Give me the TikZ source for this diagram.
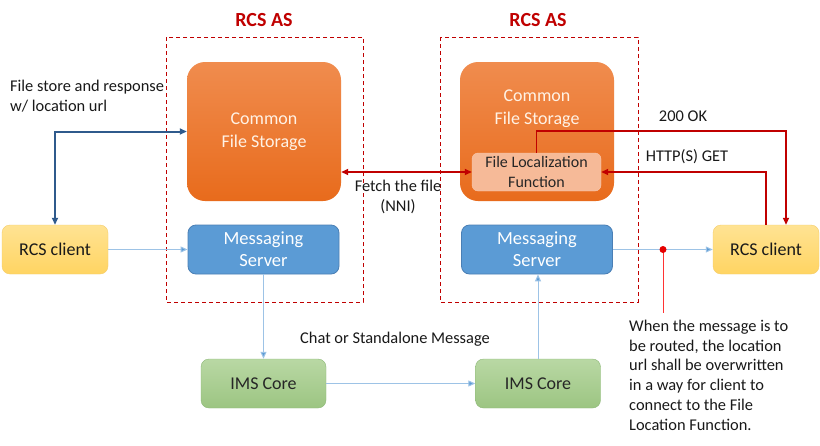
\documentclass[tikz,border=0pt]{standalone}
\usepackage{fontspec}
\setmainfont{Carlito}
\usetikzlibrary{arrows.meta}

\definecolor{rougeAS}{HTML}{C00000}
\definecolor{orangeH}{HTML}{F08C4E}
\definecolor{orangeB}{HTML}{E86B1C}
\definecolor{saumon}{HTML}{F6BA98}
\definecolor{bleuMS}{HTML}{5B9BD5}
\definecolor{bleuBord}{HTML}{4A7FB5}
\definecolor{bleuFonce}{HTML}{2F5A8C}
\definecolor{bleuClair}{HTML}{9DC3E6}
\definecolor{jauneH}{HTML}{FFE393}
\definecolor{jauneB}{HTML}{FFD462}
\definecolor{jauneBord}{HTML}{F5CD6A}
\definecolor{vertH}{HTML}{B9D8A4}
\definecolor{vertB}{HTML}{9CC582}
\definecolor{vertBord}{HTML}{8DB978}

\tikzset{
  cadre/.style={rougeAS, line width=1pt, dash pattern=on 4pt off 3pt},
  titre/.style={rougeAS, font=\fontsize{20}{24}\selectfont\bfseries},
  stockage/.style={rounded corners=18pt, top color=orangeH, bottom color=orangeB,
    minimum width=154pt, minimum height=139pt, inner sep=0pt, align=center,
    text=orange!10, font=\fontsize{18}{23}\selectfont},
  stocktexte/.style={text=orange!10, align=center, font=\fontsize{18}{23}\selectfont},
  localisation/.style={rounded corners=6pt, fill=saumon, draw=saumon!80!white,
    minimum width=129pt, minimum height=38pt, inner sep=0pt, align=center,
    text=black!85, font=\fontsize{16}{20}\selectfont},
  serveur/.style={rounded corners=8pt, fill=bleuMS, draw=bleuBord, line width=0.8pt,
    minimum width=151pt, minimum height=49pt, inner sep=0pt, align=center,
    text=white, font=\fontsize{18.5}{22}\selectfont},
  client/.style={rounded corners=8pt, top color=jauneH, bottom color=jauneB, draw=jauneBord,
    minimum width=106pt, minimum height=49pt, inner sep=0pt,
    text=black!90, font=\fontsize{18}{22}\selectfont},
  coeur/.style={rounded corners=8pt, top color=vertH, bottom color=vertB, draw=vertBord,
    minimum width=125pt, minimum height=49pt, inner sep=0pt,
    text=black!85, font=\fontsize{18}{22}\selectfont},
  texte/.style={inner sep=0pt, text=black!90, font=\fontsize{16.4}{19.7}\selectfont},
  pointe/.tip={Triangle[length=7pt,width=6pt]},
  lienrouge/.style={rougeAS, line width=1.6pt},
  lienbleu/.style={bleuFonce, line width=2pt},
  lienfin/.style={bleuClair, line width=1pt, -{Triangle[length=7pt,width=6pt,fill=bleuMS]}}
}

\begin{document}
\begin{tikzpicture}[x=1pt,y=-1pt]
  % Cadre de l'image
  \fill[white] (0,0) rectangle (820,445);
  \useasboundingbox (0,0) rectangle (820,445);

  % Cadres RCS AS
  \draw[cadre] (166,37) rectangle (363,302);
  \draw[cadre] (440,37) rectangle (638,302);
  \node[titre] (asA) at (264,20) {RCS AS};
  \node[titre] (asB) at (538,20) {RCS AS};

  % Stockage commun
  \node[stockage] (cfsA) at (264,131.5) {Common\\File Storage};
  \node[stockage] (cfsB) at (537,131.5) {};
  \node[stocktexte] (cfsBtexte) at (537,109) {Common\\File Storage};
  \node[localisation] (flf) at (536.5,172) {File Localization\\Function};

  % Serveurs, clients et coeurs IMS
  \node[serveur] (msgA) at (263.5,249.5) {Messaging\\Server};
  \node[serveur] (msgB) at (537,249.5) {Messaging\\Server};
  \node[client] (clientA) at (55,249.5) {RCS client};
  \node[client] (clientB) at (766,249.5) {RCS client};
  \node[coeur] (imsA) at (263.5,383.5) {IMS Core};
  \node[coeur] (imsB) at (538,383.5) {IMS Core};

  % Textes
  \node[texte, align=left, anchor=north west] (depot) at (10,80) {File store and response\\w/ location url};
  \node[texte, align=center, anchor=north] (nni) at (398,180) {Fetch the file\\(NNI)};
  \node[texte] (ok) at (683,116) {200 OK};
  \node[texte] (get) at (687,157) {HTTP(S) GET};
  \node[texte] (chat) at (395,339) {Chat or Standalone Message};
  \node[texte, align=left, anchor=north west] (note) at (629,320)
    {When the message is to\\be routed, the location\\url shall be overwritten\\in a way for client to\\connect to the File\\Location Function.};

  % Liens rouges (fichier)
  \draw[lienrouge, pointe-pointe] (flf.west) -- (flf.west -| cfsA.east);
  \draw[lienrouge, -pointe] (clientB.north) |- (flf.east);
  \draw[lienrouge, -pointe] (flf.north) -- ++(0,-22) -| ([xshift=20pt]clientB.north);

  % Lien bleu (depot du fichier)
  \draw[lienbleu, pointe-pointe] (cfsA.west) -| (clientA.north);

  % Messages
  \draw[lienfin] (clientA) -- (msgA);
  \draw[lienfin] (msgB) -- (clientB);
  \draw[lienfin] (msgA) -- (imsA);
  \draw[lienfin] (imsA) -- (imsB);
  \draw[lienfin] (imsB.north) -- (imsB.north |- msgB.south);

  % Point de reecriture
  \coordinate (reecrit) at (663,249.5);
  \draw[red!80, line width=0.8pt] (reecrit) -- ++(0,63);
  \fill[red!90!black] (reecrit) circle (3.5);
\end{tikzpicture}
\end{document}
